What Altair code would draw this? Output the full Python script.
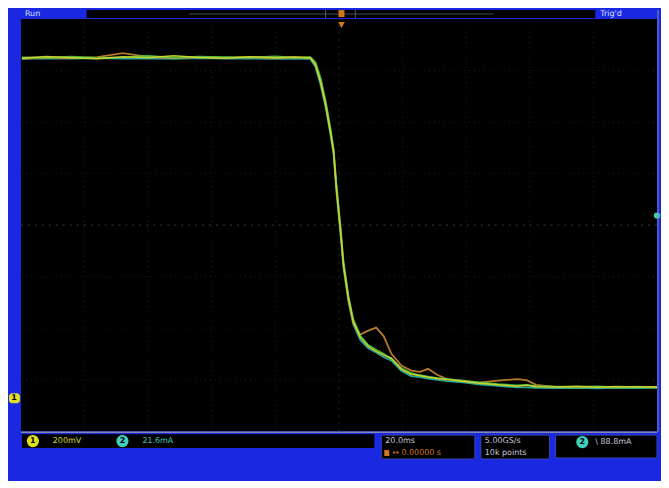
import altair as alt
import pandas as pd

# ---- waveform data (time in ms, level in mV) ----
TIME_MS = [-99.7, -92, -84, -76, -68, -60, -52, -44, -36, -28, -20, -14, -9, -7.4, -5.8,
           -4.2, -2.7, -1.7, -0.8, 0.5, 1.4, 3.0, 4.5, 6.7, 9.2, 11.7, 14, 16.5, 19.6, 22.7,
           25.5, 28, 31, 34, 39, 44, 50, 56, 59, 62, 68, 75, 81, 87, 94, 100]
YELLOW = [648, 655, 650, 646, 654, 650, 657, 651, 648, 654, 650, 653, 649, 622, 556, 467,
          362, 285, 141, -25, -153, -285, -374, -436, -471, -490, -505, -517, -560, -579,
          -585, -591, -596, -600, -606, -614, -620, -626, -622, -628, -629, -626, -630, -627,
          -629, -628]
GREEN = [651, 650, 654, 649, 651, 657, 650, 654, 652, 650, 655, 650, 652, 632, 572, 482,
         376, 296, 156, -10, -140, -276, -366, -430, -466, -484, -500, -520, -555, -575,
         -583, -588, -594, -598, -604, -611, -618, -622, -620, -625, -627, -628, -626, -629,
         -627, -630]
ORANGE = [646, 650, 648, 652, 668, 653, 648, 652, 650, 652, 648, 651, 650, 626, 560, 472,
          368, 290, 150, -20, -150, -290, -380, -425, -410, -398, -430, -500, -545, -565,
          -570, -558, -582, -598, -606, -612, -604, -598, -602, -620, -628, -630, -628, -630,
          -628, -631]
CYAN = [645, 647, 646, 648, 646, 647, 645, 648, 646, 647, 645, 646, 645, 615, 545, 458,
        352, 276, 128, -35, -165, -300, -386, -446, -478, -495, -512, -526, -566, -586,
        -590, -596, -601, -606, -611, -618, -624, -630, -630, -632, -633, -632, -634, -632,
        -633, -632]

GRID_T = [-80, -60, -40, -20, 20, 40, 60, 80]
GRID_V = [-600, -400, -200, 200, 400, 600]
TRIG_LEVEL_MV = [37]

CH1_SCALE = "200mV"
CH2_SCALE = "21.6mA"
TIMEBASE = "20.0ms"
TRIG_POS = "\u2194 0.00000 s"
SAMPLE_RATE = "5.00GS/s"
RECORD = "10k points"
TRIG_INFO = "\\  88.8mA"

BLUE = "#1a28e2"
XS = alt.Scale(domain=[-100, 100], range=[13, 652], nice=False, zero=False)
YS = alt.Scale(domain=[-800, 800], range=[423, 9], nice=False, zero=False)
ONE = pd.DataFrame({"i": [0]})


def box(x, x2, y, y2, fill, stroke=None, r=0):
    kw = dict(fill=fill, cornerRadius=r)
    if stroke:
        kw.update(stroke=stroke, strokeWidth=1)
    return alt.Chart(ONE).mark_rect(**kw).encode(
        x=alt.value(x), x2=alt.value(x2), y=alt.value(y), y2=alt.value(y2))


def txt(s, x, y, color, size=9, align="left", weight="normal"):
    return alt.Chart(ONE).mark_text(
        text=s, color=color, fontSize=size, align=align, baseline="middle",
        font="DejaVu Sans", fontWeight=weight).encode(x=alt.value(x), y=alt.value(y))


def dot(x, y, color, size=170):
    return alt.Chart(ONE).mark_point(
        shape="circle", filled=True, color=color, size=size, opacity=1).encode(
        x=alt.value(x), y=alt.value(y))


# plot area
plot_bg = alt.Chart(ONE).mark_rect(color="black").encode(
    x=alt.X(datum=-100, scale=XS, axis=None), x2=alt.X2(datum=100),
    y=alt.Y(datum=-800, scale=YS, axis=None), y2=alt.Y2(datum=800))

grid_x = alt.Chart(pd.DataFrame({"t": GRID_T})).mark_rule(
    color="#1c1c1c", strokeDash=[1, 4], strokeWidth=1).encode(
    x=alt.X("t:Q", scale=XS, axis=None),
    y=alt.Y(datum=-800, scale=YS, axis=None), y2=alt.Y2(datum=800))
grid_y = alt.Chart(pd.DataFrame({"v": GRID_V})).mark_rule(
    color="#1c1c1c", strokeDash=[1, 4], strokeWidth=1).encode(
    y=alt.Y("v:Q", scale=YS, axis=None),
    x=alt.X(datum=-100, scale=XS, axis=None), x2=alt.X2(datum=100))
center_h = alt.Chart(ONE).mark_rule(color="#3a3a3a", strokeDash=[2, 5]).encode(
    y=alt.Y(datum=0, scale=YS, axis=None),
    x=alt.X(datum=-100, scale=XS, axis=None), x2=alt.X2(datum=100))
center_v = alt.Chart(ONE).mark_rule(color="#262626", strokeDash=[2, 5]).encode(
    x=alt.X(datum=0, scale=XS, axis=None),
    y=alt.Y(datum=-800, scale=YS, axis=None), y2=alt.Y2(datum=800))


def trace(vals, color, width=1.8, op=0.9):
    df = pd.DataFrame({"t": TIME_MS, "v": vals})
    return alt.Chart(df).mark_line(color=color, strokeWidth=width, opacity=op).encode(
        x=alt.X("t:Q", scale=XS, axis=None),
        y=alt.Y("v:Q", scale=YS, axis=None))


traces = [
    trace(CYAN, "#2fb8a8"),
    trace(ORANGE, "#c8862a"),
    trace(GREEN, "#4fc848"),
    trace(YELLOW, "#d6d82a", 1.5),
]

trig_level = alt.Chart(pd.DataFrame({"v": TRIG_LEVEL_MV})).mark_point(
    shape="circle", filled=True, color="#40d0b0", size=40, opacity=1).encode(
    y=alt.Y("v:Q", scale=YS, axis=None), x=alt.value(652))

layers = [
    plot_bg, grid_x, grid_y, center_h, center_v,
    *traces, trig_level,
    # top bar
    box(79, 590, 0, 8, "black"),
    alt.Chart(ONE).mark_rule(color="#40485a", strokeWidth=1).encode(
        x=alt.value(182), x2=alt.value(488), y=alt.value(4)),
    alt.Chart(ONE).mark_rule(color="#50586a", strokeWidth=1).encode(
        x=alt.value(319), y=alt.value(0), y2=alt.value(8)),
    alt.Chart(ONE).mark_rule(color="#50586a", strokeWidth=1).encode(
        x=alt.value(349), y=alt.value(0), y2=alt.value(8)),
    box(332, 338, 0, 7, "#d07820"),
    alt.Chart(ONE).mark_point(shape="triangle-down", filled=True, color="#d07820",
                              size=45, opacity=1).encode(x=alt.value(335), y=alt.value(15)),
    txt("Run", 17, 4, "#d8e0ff", 8),
    txt("Trig'd", 595, 4, "#d8e0ff", 8),
    # left channel marker
    box(1, 12, 385, 395, "#e0e020", r=3),
    txt("1", 6, 390, "black", 8, "center", "bold"),
    # plot bottom border line
    alt.Chart(ONE).mark_rule(color="#8088b0", strokeWidth=1.5).encode(
        x=alt.value(13), x2=alt.value(652), y=alt.value(424)),
    alt.Chart(ONE).mark_rule(color="#8088b0", strokeWidth=1).encode(
        x=alt.value(653), y=alt.value(0), y2=alt.value(424)),
    # bottom status strip
    box(14, 368, 426, 440, "black"),
    dot(25, 433, "#e0e020", 150),
    txt("1", 25, 433, "black", 8, "center", "bold"),
    txt(CH1_SCALE, 45, 433, "#d8d830", 8),
    dot(115, 433, "#40d0c0", 150),
    txt("2", 115, 433, "black", 8, "center", "bold"),
    txt(CH2_SCALE, 135, 433, "#40c0b0", 8),
    box(375, 469, 427, 451, "black", "#3848b0", 2),
    txt(TIMEBASE, 379, 433, "#c8c8d8", 8),
    box(378, 383, 442, 448, "#d07820"),
    txt(TRIG_POS, 386, 445, "#d07820", 8),
    box(475, 544, 427, 451, "black", "#3848b0", 2),
    txt(SAMPLE_RATE, 479, 433, "#c8c8d8", 8),
    txt(RECORD, 479, 445, "#c8c8d8", 8),
    box(550, 652, 427, 450, "black", "#3848b0", 2),
    dot(577, 434, "#40d0c0", 150),
    txt("2", 577, 434, "black", 8, "center", "bold"),
    txt(TRIG_INFO, 590, 434, "#c8c8d8", 8),
]

chart = alt.layer(*layers).properties(
    width=653, height=472, padding=0, background=BLUE
).configure_view(stroke=None)

chart.save("out.html", embed_options={"renderer": "svg", "actions": False})
